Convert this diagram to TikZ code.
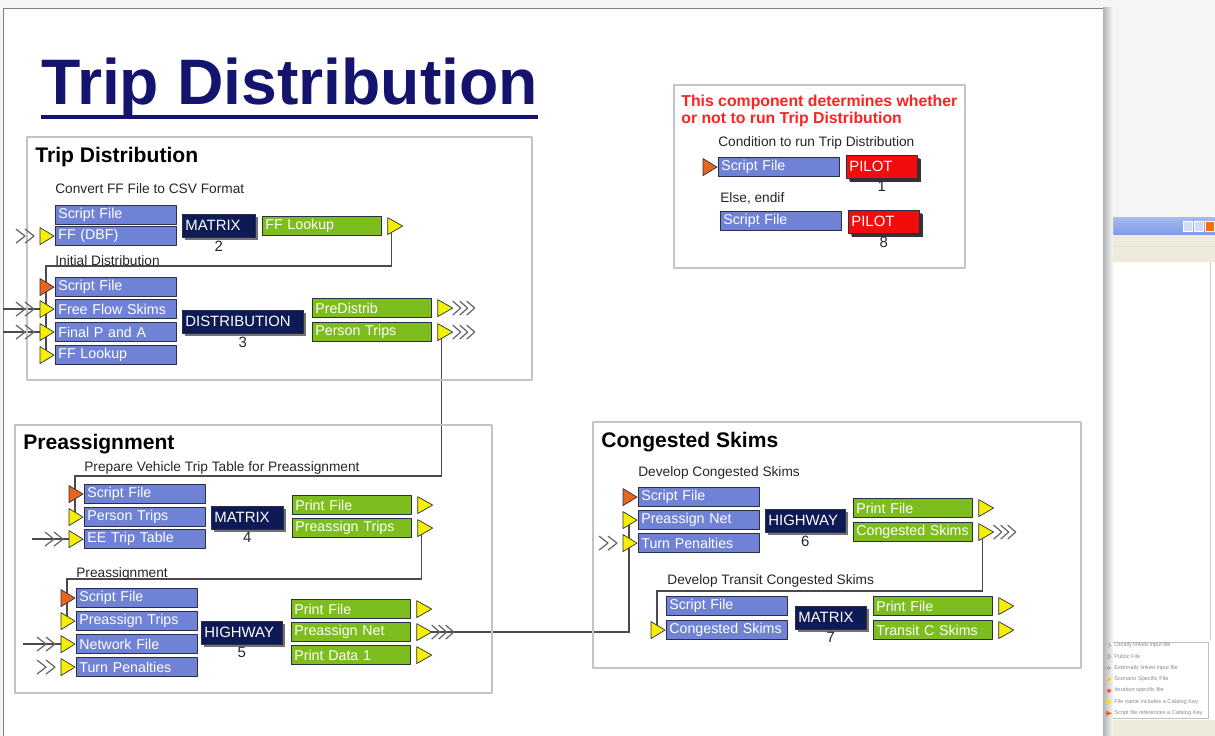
\documentclass[tikz,border=0pt]{standalone}
\usepackage{fontspec}
\setmainfont{Liberation Sans}
\usetikzlibrary{shadows}
\pgfdeclarelayer{bottom}
\pgfdeclarelayer{wires}
\pgfsetlayers{bottom,wires,main}
\definecolor{navy}{HTML}{14146E}
\definecolor{fileblue}{HTML}{6F82D6}
\definecolor{filegreen}{HTML}{7DBE1E}
\definecolor{progblue}{HTML}{0E1A55}
\definecolor{pilotred}{HTML}{F20C0C}
\definecolor{portyel}{HTML}{F6F000}
\definecolor{portorg}{HTML}{E8661A}
\definecolor{boxline}{HTML}{2B2F45}
\definecolor{wiregray}{HTML}{4A4A4A}
\definecolor{frameg}{HTML}{C4C4C4}
\definecolor{notered}{HTML}{FF2222}
\definecolor{barblue}{HTML}{7C9CE8}
\definecolor{barbeige}{HTML}{EEEBDD}

\tikzset{
  infile/.style={draw=boxline,fill=fileblue,text=white,anchor=north west,
    text width=2.30cm,inner xsep=0.06cm,inner ysep=0pt,minimum height=0.39cm,
    font=\fontsize{8.1}{9}\selectfont},
  outfile/.style={infile,fill=filegreen,text width=2.26cm},
  prog/.style={draw=boxline,fill=progblue,text=white,anchor=north west,
    text width=#1,inner xsep=0.06cm,inner ysep=0pt,minimum height=0.46cm,
    font=\fontsize{8.5}{9}\selectfont,
    drop shadow={shadow xshift=0.06cm,shadow yshift=-0.06cm,fill=black!55,opacity=1}},
  pilot/.style={prog=#1,fill=pilotred,
    drop shadow={shadow xshift=0.07cm,shadow yshift=-0.07cm,fill=black!80,opacity=1}},
  num/.style={inner sep=0pt,label distance=1.5pt,font=\fontsize{8.5}{9}\selectfont,text=black!85},
  secframe/.style={draw=frameg,line width=0.7pt},
  sectitle/.style={anchor=west,inner sep=0pt,font=\fontsize{12}{14}\selectfont\bfseries},
  steptxt/.style={anchor=west,inner sep=0pt,text=black!85,font=\fontsize{7.8}{9}\selectfont},
  notetxt/.style={anchor=base west,inner sep=0pt,text=notered,font=\fontsize{9}{10}\selectfont\bfseries},
  wire/.style={draw=wiregray,line width=0.8pt},
  chevron/.style={draw=black!60,line width=0.7pt},
  legendtxt/.style={anchor=west,inner sep=0pt,text=black!45,font=\fontsize{3.2}{4}\selectfont},
  inport/.pic={\filldraw[draw=boxline,fill=#1,line width=0.4pt] (-15,-8.5)--(-1,0)--(-15,8.5)--cycle;
    \coordinate (-c) at (-9,0);},
  outport/.pic={\filldraw[draw=boxline,fill=#1,line width=0.4pt] (6,-8.5)--(21,0)--(6,8.5)--cycle;
    \coordinate (-c) at (10,0);},
  inchev/.pic={\foreach \k in {0,9} \draw[chevron] (-39+\k,-7)--++(9,7)--++(-9,7);},
  outchev/.pic={\foreach \k in {0,7,14} \draw[chevron] (21+\k,-7)--++(8,7)--++(-8,7);},
}

\begin{document}
\begin{tikzpicture}[x=0.02cm,y=-0.02cm,line join=round]
  \useasboundingbox (0,0) rectangle (1215,736);

  % screen, slide and the side window
  \begin{pgfonlayer}{bottom}
    \fill[black!4] (0,0) rectangle (1215,736);
    \fill[white] (1105,218) rectangle (1215,736);
    \shade[top color=barblue!70,bottom color=barblue] (1105,218) rectangle (1215,235);
    \fill[barbeige] (1105,235) rectangle (1215,262);
    \draw[black!12] (1105,246)--(1215,246);
    \foreach \bx/\bc in {1183/barblue!35,1194/barblue!35,1205/orange!85!red}
      \filldraw[draw=white,fill=\bc] (\bx,221) rectangle ++(9,10);
    \draw[black!20] (1210,262)--(1210,640);
    \draw[black!25] (1105,642) rectangle (1208,718);
    \fill[barbeige] (1105,720) rectangle (1215,736);
    \fill[white] (3,8) rectangle (1103,736);
    \draw[black!50] (3,736)--(3,8)--(1103,8);
    \shade[left color=black!30,right color=black!3] (1103,8) rectangle (1113,736);
  \end{pgfonlayer}

  % legend of the side window
  \foreach \t [count=\i] in {Locally linked input file,Public File,Externally linked input file,
      Scenario Specific File,Iteration specific file,File name includes a Catalog Key,
      Script file references a Catalog Key}
    \node[legendtxt] (lg\i) at (1114,{634+\i*11.3}) {\t};
  \draw[black!40,line width=0.3pt] (1108,643)--(1111,645.3)--(1108,647.6);
  \draw[black!40,line width=0.3pt] (1107,654)--(1109,656.6)--(1107,659) (1109,654)--(1111,656.6)--(1109,659);
  \draw[black!40,line width=0.3pt] (1104,668)--(1111,668) (1108,666)--(1110,668)--(1108,670);
  \fill[yellow!70!orange] (1109,679.5) circle (2);
  \fill[red!70] (1109,690.8) circle (2);
  \fill[portyel!80!orange] (1106,699.5)--(1112,702)--(1106,704.5)--cycle;
  \fill[portorg] (1106,710.8)--(1112,713.3)--(1106,715.8)--cycle;

  % title
  \node[anchor=base west,inner sep=0pt,text=navy,font=\fontsize{36.6}{40}\selectfont\bfseries]
    (ttl) at (41,105) {Trip Distribution};
  \draw[navy,line width=0.08cm] ([yshift=-0.24cm]ttl.base west) -- ([yshift=-0.24cm]ttl.base east);

  % pilot component
  \draw[secframe] (674,85) rectangle (965,268);
  \node[notetxt] (note1) at (681,107) {This component determines whether};
  \node[notetxt] (note2) at (681,124) {or not to run Trip Distribution};
  \node[steptxt] (lbl1) at (718,143) {Condition to run Trip Distribution};
  \node[infile] (bScr1p) at (718,157) {Script File};
  \node[pilot=1.30cm,label={[num]below:1}] (mPil1) at (846,155) {PILOT};
  \node[steptxt] (lbl8) at (720,198) {Else, endif};
  \node[infile] (bScr8) at (720,211) {Script File};
  \node[pilot=1.30cm,label={[num]below:8}] (mPil8) at (848,210) {PILOT};
  \pic (qScr1p) at (bScr1p.west) {inport=portorg};

  % Trip Distribution
  \draw[secframe] (27,137) rectangle (532,380);
  \node[sectitle] (sec1) at (35,157) {Trip Distribution};
  \node[steptxt] (lbl2) at (55,189) {Convert FF File to CSV Format};
  \node[infile] (bScr2) at (55,205) {Script File};
  \node[infile] (bFFD) at (55,226) {FF (DBF)};
  \node[prog=1.34cm,label={[num]below:2}] (mMat2) at (182,214) {MATRIX};
  \node[outfile] (oFFL) at (262,216) {FF Lookup};
  \node[steptxt] (lbl3) at (55,261) {Initial Distribution};
  \node[infile] (bScr3) at (55,277) {Script File};
  \node[infile] (bFFS) at (55,299) {Free Flow Skims};
  \node[infile] (bFPA) at (55,322) {Final P and A};
  \node[infile] (bFFL) at (55,345) {FF Lookup};
  \node[prog=2.30cm,label={[num]below:3}] (mDist3) at (182,310) {DISTRIBUTION};
  \node[outfile] (oPre) at (312,298) {PreDistrib};
  \node[outfile] (oPT) at (312,322) {Person Trips};

  \pic (qFFD) at (bFFD.west) {inport=portyel};
  \pic at (bFFD.west) {inchev};
  \pic (pFFL) at (oFFL.east) {outport=portyel};
  \pic (qScr3) at (bScr3.west) {inport=portorg};
  \pic (qFFS) at (bFFS.west) {inport=portyel};
  \pic at (bFFS.west) {inchev};
  \pic (qFPA) at (bFPA.west) {inport=portyel};
  \pic at (bFPA.west) {inchev};
  \pic (qFFL) at (bFFL.west) {inport=portyel};
  \pic (pPre) at (oPre.east) {outport=portyel};
  \pic at (oPre.east) {outchev};
  \pic (pPT) at (oPT.east) {outport=portyel};
  \pic at (oPT.east) {outchev};

  % Preassignment
  \draw[secframe] (15,425) rectangle (492,693);
  \node[sectitle] (sec2) at (23,444) {Preassignment};
  \node[steptxt] (lbl4) at (84,468) {Prepare Vehicle Trip Table for Preassignment};
  \node[infile] (bScr4) at (84,484) {Script File};
  \node[infile] (bPT4) at (84,507) {Person Trips};
  \node[infile] (bEE4) at (84,529) {EE Trip Table};
  \node[prog=1.32cm,label={[num]below:4}] (mMat4) at (211,506) {MATRIX};
  \node[outfile] (oPF4) at (292,495) {Print File};
  \node[outfile] (oPAT4) at (292,518) {Preassign Trips};
  \node[steptxt] (lbl5) at (76,574) {Preassignment};
  \node[infile] (bScr5) at (76,588) {Script File};
  \node[infile] (bPAT5) at (76,611) {Preassign Trips};
  \node[infile] (bNet5) at (76,634) {Network File};
  \node[infile] (bTP5) at (76,657) {Turn Penalties};
  \node[prog=1.50cm,label={[num]below:5}] (mHwy5) at (201,621) {HIGHWAY};
  \node[outfile] (oPF5) at (291,599) {Print File};
  \node[outfile] (oPAN5) at (291,622) {Preassign Net};
  \node[outfile] (oPD5) at (291,645) {Print Data 1};

  \pic (qScr4) at (bScr4.west) {inport=portorg};
  \pic (qPT4) at (bPT4.west) {inport=portyel};
  \pic (qEE4) at (bEE4.west) {inport=portyel};
  \pic at (bEE4.west) {inchev};
  \pic (pPF4) at (oPF4.east) {outport=portyel};
  \pic (pPAT4) at (oPAT4.east) {outport=portyel};
  \pic (qScr5) at (bScr5.west) {inport=portorg};
  \pic (qPAT5) at (bPAT5.west) {inport=portyel};
  \pic (qNet5) at (bNet5.west) {inport=portyel};
  \pic at (bNet5.west) {inchev};
  \pic (qTP5) at (bTP5.west) {inport=portyel};
  \pic at (bTP5.west) {inchev};
  \pic (pPF5) at (oPF5.east) {outport=portyel};
  \pic (pPAN5) at (oPAN5.east) {outport=portyel};
  \pic at (oPAN5.east) {outchev};
  \pic (pPD5) at (oPD5.east) {outport=portyel};

  % Congested Skims
  \draw[secframe] (593,422) rectangle (1081,668);
  \node[sectitle] (sec3) at (601,442) {Congested Skims};
  \node[steptxt] (lbl6) at (638,473) {Develop Congested Skims};
  \node[infile] (bScr6) at (638,487) {Script File};
  \node[infile] (bPAN6) at (638,510) {Preassign Net};
  \node[infile] (bTP6) at (638,533) {Turn Penalties};
  \node[prog=1.48cm,label={[num]below:6}] (mHwy6) at (765,509) {HIGHWAY};
  \node[outfile] (oPF6) at (853,498) {Print File};
  \node[outfile] (oCS6) at (853,522) {Congested Skims};
  \node[steptxt] (lbl7) at (667,581) {Develop Transit Congested Skims};
  \node[infile] (bScr7) at (666,596) {Script File};
  \node[infile] (bCS7) at (666,620) {Congested Skims};
  \node[prog=1.30cm,label={[num]below:7}] (mMat7) at (795,606) {MATRIX};
  \node[outfile] (oPF7) at (873,596) {Print File};
  \node[outfile] (oTCS7) at (873,620) {Transit C Skims};

  \pic (qScr6) at (bScr6.west) {inport=portorg};
  \pic (qPAN6) at (bPAN6.west) {inport=portyel};
  \pic (qTP6) at (bTP6.west) {inport=portyel};
  \pic at (bTP6.west) {inchev};
  \pic (pPF6) at (oPF6.east) {outport=portyel};
  \pic (pCS6) at (oCS6.east) {outport=portyel};
  \pic at (oCS6.east) {outchev};
  \pic (qCS7) at (bCS7.west) {inport=portyel};
  \pic (pPF7) at (oPF7.east) {outport=portyel};
  \pic (pTCS7) at (oTCS7.east) {outport=portyel};

  % links between steps
  \coordinate (edge) at (3,0);
  \begin{pgfonlayer}{wires}
    \draw[wire] (pFFL-c) -- ++(0,40) -| (qFFL-c);
    \draw[wire] (pPT-c) -- ++(0,144) -| (qPT4-c);
    \draw[wire] (pPAT4-c) -- ++(0,51) -| (qPAT5-c);
    \draw[wire] (pPAN5-c) -| (qPAN6-c);
    \draw[wire] (pCS6-c) -- ++(0,59) -| (qCS7-c);
    \draw[wire] (edge |- qFFS-c) -- (qFFS-c);
    \draw[wire] (edge |- qFPA-c) -- (qFPA-c);
    \draw[wire] (qEE4-c) -- ++(-43,0);
    \draw[wire] (qNet5-c) -- ++(-44,0);
  \end{pgfonlayer}
\end{tikzpicture}
\end{document}
